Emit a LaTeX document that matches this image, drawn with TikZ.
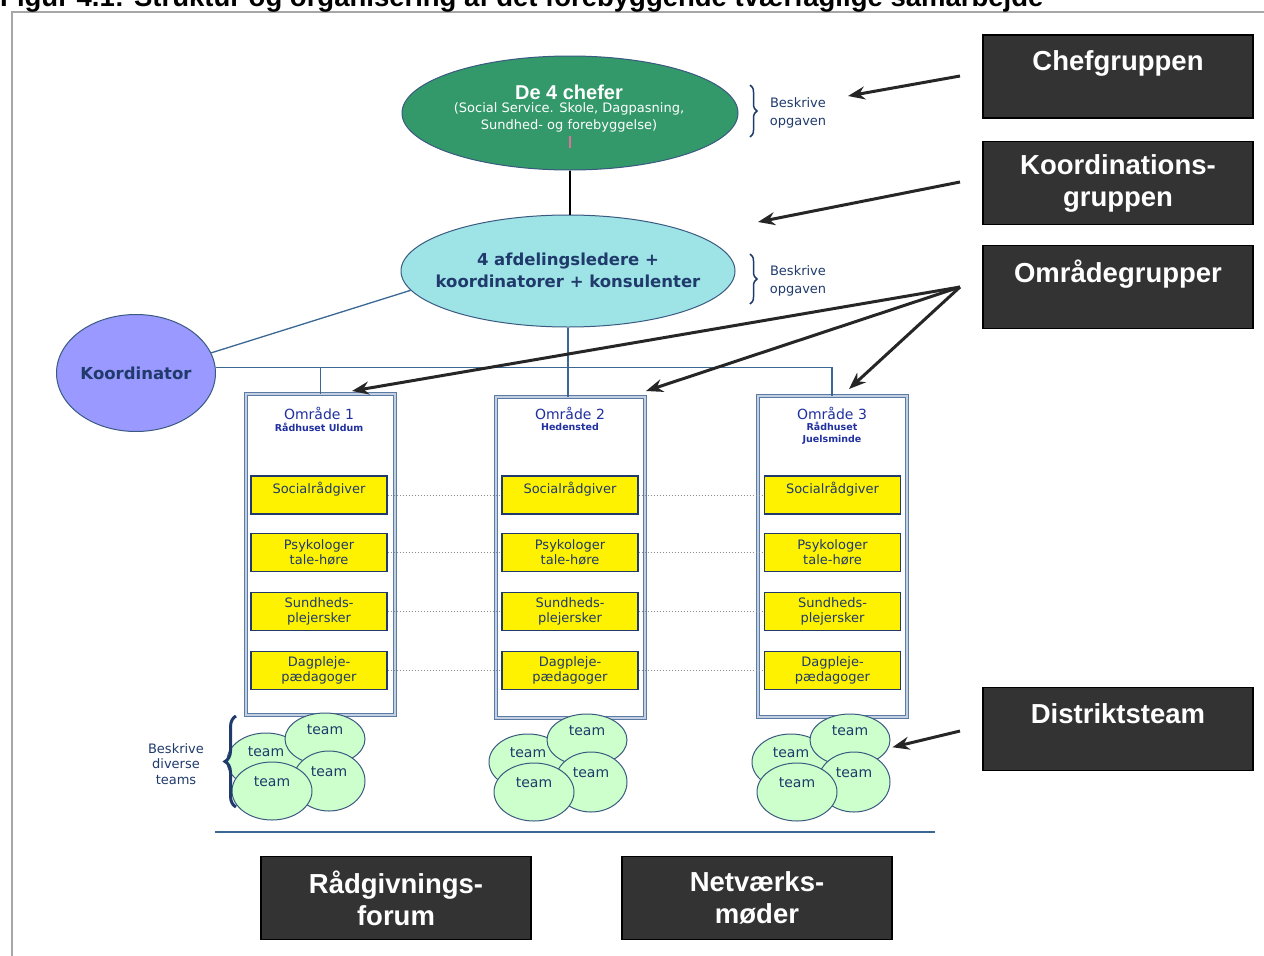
\documentclass[tikz,border=0pt]{standalone}
\usepackage{fontspec}
\setmainfont{DejaVu Sans}
\newfontfamily\arialfont{Liberation Sans}
\usetikzlibrary{shapes.geometric}
\usetikzlibrary{arrows.meta}
\usetikzlibrary{decorations.pathreplacing}

\definecolor{boxgray}{HTML}{333333}
\definecolor{chefgreen}{HTML}{33996A}
\definecolor{afcyan}{HTML}{9EE3E6}
\definecolor{koorblue}{HTML}{9999FF}
\definecolor{navy}{HTML}{1F3A6B}
\definecolor{areablue}{HTML}{2030A0}
\definecolor{linkblue}{HTML}{3A6794}
\definecolor{framegray}{HTML}{A6A6A6}
\definecolor{teamgreen}{HTML}{CCFFCC}
\definecolor{teamedge}{HTML}{3A5A80}
\definecolor{areaedge}{HTML}{5B7BA5}
\definecolor{areafill}{HTML}{C3D0E2}
\definecolor{cursorpink}{HTML}{E0709A}

\tikzset{
  blackbox/.style={draw=black, line width=1.5pt, fill=boxgray, text=white,
    font=\arialfont\bfseries\fontsize{27.5}{32}\selectfont, align=center,
    minimum width=270pt, minimum height=83pt, inner sep=0pt},
  yellowbox/.style={draw=navy, line width=1.2pt, fill=yellow, text=navy,
    font=\fontsize{13}{15}\selectfont, align=center, minimum width=136pt,
    minimum height=38pt, inner sep=0pt},
  areabox/.style={draw=areaedge, double=areafill, double distance=2pt,
    line width=1pt, fill=white, minimum width=149pt, minimum height=321pt, inner sep=0pt},
  areahead/.style={text=areablue, font=\fontsize{14}{16}\selectfont, inner sep=0pt},
  areasub/.style={text=areablue, font=\bfseries\fontsize{9.5}{12}\selectfont, align=center, inner sep=0pt},
  team/.style={ellipse, draw=teamedge, line width=1pt, fill=teamgreen, text=navy,
    font=\fontsize{14}{16}\selectfont, inner sep=2pt, text height=10pt, text depth=19pt},
  link/.style={draw=linkblue, line width=1.3pt},
  dots/.style={draw=gray!90, dotted, line width=1pt},
  bigarrow/.style={draw=black!85, line width=3pt, -{Stealth[length=17pt,width=13pt]}},
  bracket/.style={draw=navy, decorate, decoration={brace, amplitude=7pt}, line width=1.5pt},
  note/.style={text=navy, font=\fontsize{13}{18}\selectfont, align=center, inner sep=0pt},
}

\begin{document}
\begin{tikzpicture}[x=1pt,y=-1pt]
\useasboundingbox (0,0) rectangle (1264,956);
% frame and caption
\draw[framegray, line width=1.5pt] (12,956) -- (12,12) -- (1264,12);
\node[anchor=base west, inner sep=0pt, font=\arialfont\bfseries\fontsize{27.5}{30}\selectfont] (TT) at (0,6)
  {Figur 4.1: Struktur og organisering af det forebyggende tværfaglige samarbejde};

% top ellipses
\node[ellipse, draw=teamedge, line width=1pt, fill=chefgreen, minimum width=336pt, minimum height=114pt] (CH) at (570,113) {};
\node[text=white, inner sep=0pt, font=\arialfont\bfseries\fontsize{20}{20}\selectfont] (CH1) at (569,92) {De 4 chefer};
\node[text=white, inner sep=0pt, align=center, font=\fontsize{13}{17}\selectfont] (CH2) at (569,117)
  {(Social Service. Skole, Dagpasning,\\Sundhed- og forebyggelse)};
\draw[cursorpink, line width=2pt] (570,136) -- (570,148);

\node[ellipse, draw=teamedge, line width=1pt, fill=afcyan, minimum width=334pt, minimum height=112pt] (AF) at (568,271) {};
\node[text=navy, align=center, inner sep=0pt, font=\bfseries\fontsize{16.5}{22}\selectfont] (AF1) at (568,270)
  {4 afdelingsledere +\\koordinatorer + konsulenter};

\node[ellipse, draw=teamedge, line width=1pt, fill=koorblue, text=navy, inner sep=0pt,
  font=\bfseries\fontsize{16.5}{20}\selectfont, minimum width=159pt, minimum height=117pt] (KO) at (136,373) {Koordinator};

\draw[black, line width=1.3pt] (CH.south) -- (CH.south |- AF.north);
\draw[link] (KO.15) -- (AF.187);

% braces
\draw[bracket] (750,85) -- (750,137);
\node[note] (BO1) at (798,113) {Beskrive\\opgaven};
\draw[bracket] (750,254) -- (750,304);
\node[note] (BO2) at (798,281) {Beskrive\\opgaven};

% areas
\node[areabox] (O1) at (320.5,554.5) {};
\node[areabox] (O2) at (570,557.5) {};
\node[areabox] (O3) at (832,556.5) {};

\draw[link] (KO.4) -- (KO.4 -| O3.north) -- (O3.north);
\draw[link] (KO.4 -| O1.north) -- (O1.north);
\draw[link] (AF.south) -- (AF.south |- O2.north);

\node[areahead] (N1) at (319,413) {Område 1};
\node[areasub] (R1) at (319,427) {Rådhuset Uldum};
\node[areahead] (N2) at (570,413) {Område 2};
\node[areasub] (R2) at (570,427) {Hedensted};
\node[areahead] (N3) at (832,413) {Område 3};
\node[areasub] (R3) at (832,433) {Rådhuset\\Juelsminde};

\node[yellowbox] (S1) at (319,495) {Socialrådgiver\\[-6pt]\strut};
\node[yellowbox] (P1) at (319,552.5) {Psykologer\\tale-høre};
\node[yellowbox] (U1) at (319,611.5) {Sundheds-\\plejersker};
\node[yellowbox] (D1) at (319,670.5) {Dagpleje-\\pædagoger};

\node[yellowbox] (S2) at (570,495) {Socialrådgiver\\[-6pt]\strut};
\node[yellowbox] (P2) at (570,552.5) {Psykologer\\tale-høre};
\node[yellowbox] (U2) at (570,611.5) {Sundheds-\\plejersker};
\node[yellowbox] (D2) at (570,670.5) {Dagpleje-\\pædagoger};

\node[yellowbox] (S3) at (832.5,495) {Socialrådgiver\\[-6pt]\strut};
\node[yellowbox] (P3) at (832.5,552.5) {Psykologer\\tale-høre};
\node[yellowbox] (U3) at (832.5,611.5) {Sundheds-\\plejersker};
\node[yellowbox] (D3) at (832.5,670.5) {Dagpleje-\\pædagoger};

\draw[dots] (S1) -- (S2);
\draw[dots] (S2) -- (S3);
\draw[dots] (P1) -- (P2);
\draw[dots] (P2) -- (P3);
\draw[dots] (U1) -- (U2);
\draw[dots] (U2) -- (U3);
\draw[dots] (D1) -- (D2);
\draw[dots] (D2) -- (D3);

% teams
\begin{scope}
  \node[team, minimum width=78pt, minimum height=56pt] (T1b) at (266,761) {team};
  \node[team, minimum width=80pt, minimum height=52pt] (T1a) at (325,739) {team};
  \node[team, minimum width=72pt, minimum height=60pt] (T1c) at (329,781) {team};
  \node[team, minimum width=80pt, minimum height=58pt] (T1d) at (272,791) {team};
\end{scope}
\begin{scope}[shift={(262,1)}]
  \node[team, minimum width=78pt, minimum height=56pt] (T2b) at (266,761) {team};
  \node[team, minimum width=80pt, minimum height=52pt] (T2a) at (325,739) {team};
  \node[team, minimum width=72pt, minimum height=60pt] (T2c) at (329,781) {team};
  \node[team, minimum width=80pt, minimum height=58pt] (T2d) at (272,791) {team};
\end{scope}
\begin{scope}[shift={(525,1)}]
  \node[team, minimum width=78pt, minimum height=56pt] (T3b) at (266,761) {team};
  \node[team, minimum width=80pt, minimum height=52pt] (T3a) at (325,739) {team};
  \node[team, minimum width=72pt, minimum height=60pt] (T3c) at (329,781) {team};
  \node[team, minimum width=80pt, minimum height=58pt] (T3d) at (272,791) {team};
\end{scope}

\draw[bracket, line width=3pt, decoration={brace, amplitude=11pt}] (236,807) -- (236,716);
\node[note, font=\fontsize{13}{15.5}\selectfont] (BT) at (176,764) {Beskrive\\diverse\\teams};

\draw[draw=linkblue, line width=2pt] (215,832) -- (935,832);

% labels at the side
\node[blackbox] (G1) at (1118,76.5) {Chefgruppen\\[-10pt]\strut};
\node[blackbox] (G2) at (1118,183) {Koordinations-\\gruppen};
\node[blackbox] (G3) at (1118,287) {Områdegrupper\\[-10pt]\strut};
\node[blackbox] (G4) at (1118,729) {Distriktsteam\\[-10pt]\strut};
\node[blackbox] (G5) at (396,898) {Rådgivnings-\\forum};
\node[blackbox] (G6) at (757,898) {Netværks-\\møder};

\coordinate (A1) at (960,76);
\coordinate (A2) at (960,182);
\coordinate (A3) at (960,287);
\coordinate (A4) at (960,731);
\coordinate (E1) at (848,96);
\coordinate (E2) at (758,222);
\coordinate (E3) at (352,391);
\coordinate (E4) at (646,391);
\coordinate (E5) at (849,389);
\draw[bigarrow] (A1) -- (E1);
\draw[bigarrow] (A2) -- (E2);
\draw[bigarrow] (A3) -- (E3);
\draw[bigarrow] (A3) -- (E4);
\draw[bigarrow] (A3) -- (E5);
\draw[bigarrow, shorten >=4pt] (A4) -- (T3a.-12);
\end{tikzpicture}
\end{document}
